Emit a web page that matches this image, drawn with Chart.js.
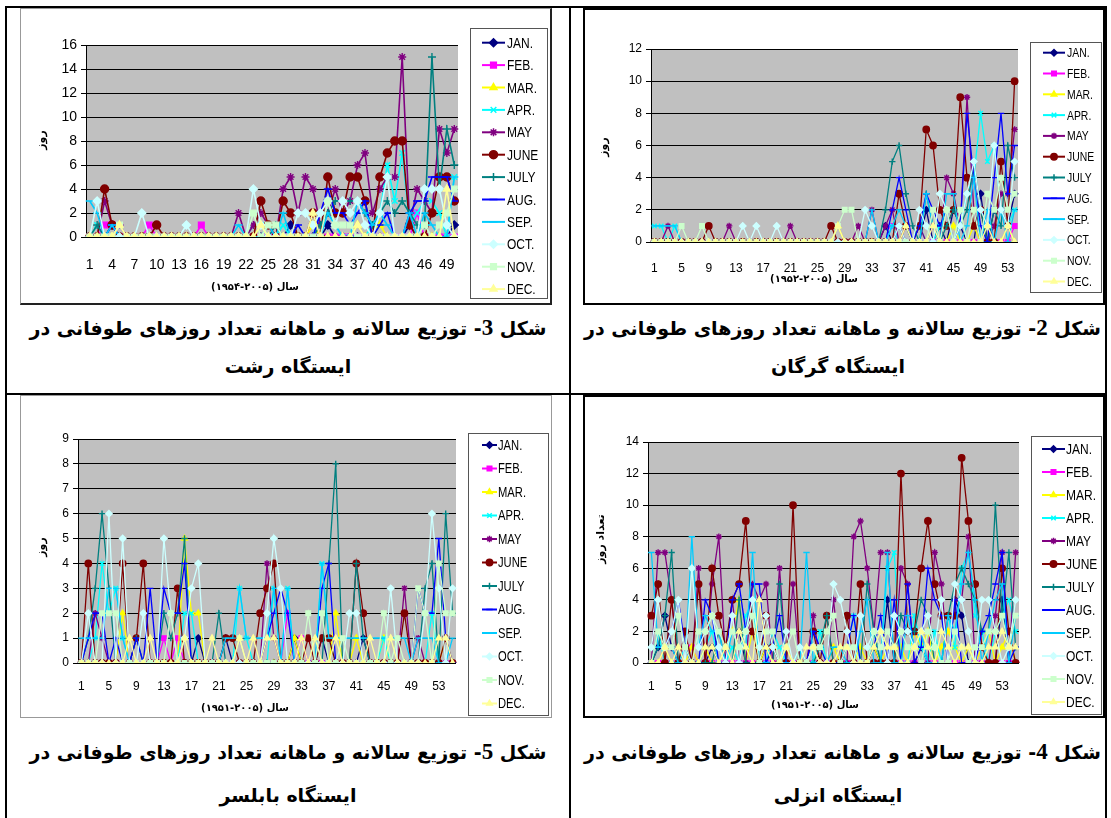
<!DOCTYPE html>
<html>
<head>
<meta charset="utf-8">
<script src="https://cdn.jsdelivr.net/npm/chart.js@4.4.1/dist/chart.umd.min.js"></script>
<style>
body{margin:0;background:#fff;width:1111px;height:818px;overflow:hidden;position:relative;font-family:'DejaVu Sans',sans-serif}
.ln{position:absolute;background:#000}
.frame{position:absolute;box-sizing:border-box}
canvas{position:absolute}
.cap{position:absolute;direction:rtl;text-align:center;white-space:nowrap;font-weight:bold;font-size:19px;line-height:30px;color:#000}
.cap .num{font-family:'Liberation Serif',serif;font-size:23px}
</style>
</head>
<body>
<!-- table lines -->
<div class="ln" style="left:5px;top:6px;width:1102px;height:2px"></div>
<div class="ln" style="left:5px;top:6px;width:2px;height:812px"></div>
<div class="ln" style="left:1105px;top:6px;width:2px;height:812px"></div>
<div class="ln" style="left:569px;top:6px;width:2px;height:812px"></div>
<div class="ln" style="left:5px;top:393px;width:1102px;height:2px"></div>

<!-- chart frames -->
<div class="frame" style="left:20px;top:8px;width:532px;height:297px;border:1px solid #999;border-right:2px solid #222;border-bottom:2px solid #222"></div>
<div class="frame" style="left:583px;top:8px;width:522px;height:297px;border:2px solid #000"></div>
<div class="frame" style="left:20px;top:395px;width:532px;height:323px;border:1px solid #999"></div>
<div class="frame" style="left:583px;top:395px;width:522px;height:323px;border:2px solid #000"></div>

<canvas id="rasht" width="530" height="295" style="left:21px;top:9px"></canvas>
<canvas id="gorgan" width="517" height="293" style="left:585px;top:10px"></canvas>
<canvas id="babolsar" width="530" height="320" style="left:21px;top:397px"></canvas>
<canvas id="anzali" width="517" height="318" style="left:585px;top:397px"></canvas>

<!-- captions -->
<div class="cap" style="left:7px;width:562px;top:313px">شکل <span class="num">3</span>- توزیع سالانه و ماهانه تعداد روزهای طوفانی در</div>
<div class="cap" style="left:7px;width:562px;top:351px">ایستگاه رشت</div>
<div class="cap" style="left:580px;width:525px;top:313px">شکل <span class="num">2</span>- توزیع سالانه و ماهانه تعداد روزهای طوفانی در</div>
<div class="cap" style="left:571px;width:534px;top:351px">ایستگاه گرگان</div>
<div class="cap" style="left:7px;width:562px;top:737px">شکل <span class="num">5</span>- توزیع سالانه و ماهانه تعداد روزهای طوفانی در</div>
<div class="cap" style="left:7px;width:562px;top:780px">ایستگاه بابلسر</div>
<div class="cap" style="left:580px;width:525px;top:737px">شکل <span class="num">4</span>- توزیع سالانه و ماهانه تعداد روزهای طوفانی در</div>
<div class="cap" style="left:571px;width:534px;top:780px">ایستگاه انزلی</div>

<script>
// months and styles (Excel default series look)
const MONTHS = ["JAN.", "FEB.", "MAR.", "APR.", "MAY", "JUNE", "JULY", "AUG.", "SEP.", "OCT.", "NOV.", "DEC."];
const MONTH_COLORS = ["#000080", "#FF00FF", "#FFFF00", "#00FFFF", "#800080", "#800000", "#008080", "#0000FF", "#00CCFF", "#CCFFFF", "#CCFFCC", "#FFFF99"];
const MONTH_MARKERS = ["rectRot", "rect", "triangle", "crossRot", "star", "circle", "cross", "line", "line", "rectRot", "rect", "triangle"];

// ---- Rasht (1954-2005), 50 years ----
const rashtJan = [0,0,0,1,0,0,0,0,0,0, 0,0,0,0,0,0,0,0,0,0, 0,0,0,0,0,0,0,1,0,0, 0,0,1,0,0,0,0,0,0,0, 0,0,0,1,0,0,0,0,0,1];
const rashtFeb = [0,0,1,1,0,0,0,0,1,0, 0,0,0,0,0,1,0,0,0,0, 0,0,0,0,0,0,0,0,0,0, 0,0,0,0,0,0,0,0,0,0, 0,0,0,0,2,0,0,0,0,0];
const rashtMar = [0,0,0,0,0,0,0,0,0,0, 0,0,0,0,0,0,0,0,0,0, 0,0,0,1,0,0,0,0,0,0, 1,0,0,0,0,0,1,0,0,1, 0,0,0,0,0,0,0,0,0,0];
const rashtApr = [0,1,0,0,0,0,0,0,0,0, 0,0,0,0,0,0,0,0,0,0, 0,0,1,1,0,0,1,0,0,0, 0,2,2,1,0,0,0,0,1,2, 6,3,7,1,2,3,3,2,0,5];
const rashtMay = [0,0,3,1,1,0,0,0,0,0, 0,0,0,0,0,0,0,0,0,0, 2,0,1,2,1,0,4,5,2,5, 4,1,2,4,2,3,6,7,2,4, 5,5,15,1,4,3,2,9,7,9];
const rashtJun = [0,0,4,1,0,0,0,0,0,1, 0,0,0,0,0,0,0,0,0,0, 0,0,0,3,1,0,3,2,0,0, 2,0,5,2,2,5,5,3,0,5, 7,8,8,1,0,0,2,5,5,3];
const rashtJul = [0,1,0,0,0,0,0,0,0,0, 0,0,0,0,0,0,0,0,0,0, 0,0,0,0,0,1,0,0,0,0, 0,1,2,3,3,3,3,2,1,2, 3,2,3,2,1,1,15,4,9,6];
const rashtAug = [0,0,0,1,0,0,0,0,0,0, 0,0,0,0,0,0,0,0,0,0, 0,0,0,0,0,0,0,0,1,0, 0,2,4,2,2,1,2,3,0,1, 2,0,0,2,3,3,5,5,5,3];
const rashtSep = [3,2,0,1,0,0,0,0,0,0, 0,0,0,0,0,0,0,0,0,0, 1,0,0,0,1,0,2,0,0,0, 0,0,2,1,0,0,3,2,1,2, 1,0,0,2,0,2,1,0,0,5];
const rashtOct = [0,3,0,0,0,0,0,2,0,0, 0,0,0,1,0,0,0,0,0,0, 0,0,4,1,0,0,0,0,2,2, 1,2,3,1,3,2,3,1,0,2, 5,0,0,0,0,4,4,4,1,0];
const rashtNov = [0,0,0,0,1,0,0,0,0,0, 0,0,0,0,0,0,0,0,0,0, 0,0,2,0,1,1,0,0,0,0, 0,0,3,1,1,1,0,0,0,0, 0,0,0,0,0,1,0,1,2,4];
const rashtDec = [0,0,0,0,1,0,0,0,0,0, 0,0,0,0,0,0,0,0,0,0, 0,0,0,1,0,0,0,0,0,0, 2,0,0,0,0,0,1,0,0,0, 0,0,0,0,0,0,0,0,4,0];

// ---- Gorgan (1952-2005), 54 years ----
const gorganJan = [0,0,0,0,0,0,0,0,0,0, 0,0,0,0,0,0,0,0,0,0, 0,0,0,0,0,0,0,0,0,0, 0,0,0,0,1,0,1,0,0,0, 2,0,1,0,2,1,0,0,3,0, 2,2,1,3];
const gorganFeb = [0,0,0,0,0,0,0,0,0,0, 0,0,0,0,0,0,0,0,0,0, 0,0,0,0,0,0,0,0,0,0, 0,0,0,0,0,1,0,0,0,0, 0,0,0,0,0,0,0,0,0,0, 0,0,0,1];
const gorganMar = [0,0,0,0,0,0,0,0,0,0, 0,0,0,0,0,0,0,0,0,0, 0,0,0,0,0,0,0,1,0,0, 0,0,0,0,0,0,0,1,0,0, 0,0,0,0,1,0,0,1,0,0, 0,0,1,0];
const gorganApr = [1,1,0,1,0,0,0,0,0,0, 0,0,0,0,0,0,0,0,0,0, 0,0,0,0,0,0,0,0,0,0, 0,0,0,0,0,1,0,0,0,1, 0,0,1,2,0,1,3,4,8,5, 6,2,1,2];
const gorganMay = [0,0,1,0,0,0,0,0,0,0, 0,1,0,0,0,0,0,0,0,0, 1,0,0,0,0,0,0,0,0,0, 1,0,2,0,1,2,0,1,0,1, 0,1,0,4,3,1,9,2,0,0, 1,3,3,7];
const gorganJun = [0,0,0,0,0,0,0,0,1,0, 0,0,0,0,0,0,0,0,0,0, 0,0,0,0,0,0,1,0,0,0, 0,0,0,0,0,0,3,1,0,1, 7,6,2,1,2,9,4,1,2,0, 0,5,1,10];
const gorganJul = [0,0,0,0,0,0,0,0,0,0, 0,0,0,0,0,0,0,0,0,0, 0,0,0,0,0,0,0,0,0,0, 0,0,0,0,2,5,6,3,1,0, 3,1,0,1,2,1,2,5,2,0, 2,1,6,4];
const gorganAug = [0,0,0,0,0,0,0,0,0,0, 0,0,0,0,0,0,0,0,0,0, 0,0,0,0,0,0,0,0,0,0, 0,0,0,0,0,2,4,2,0,1, 3,2,1,2,0,1,8,4,1,0, 4,8,3,6];
const gorganSep = [1,1,1,1,0,0,0,0,0,0, 0,0,0,0,0,0,0,0,0,0, 0,0,0,0,0,0,0,0,0,0, 0,0,2,0,0,1,2,1,0,0, 3,1,0,3,3,0,1,4,0,2, 0,2,0,2];
const gorganOct = [0,0,0,0,0,0,0,0,0,0, 0,0,0,1,0,1,0,0,1,0, 0,0,0,0,0,0,0,0,0,0, 0,2,1,0,0,0,1,0,0,2, 1,0,3,2,0,1,3,5,2,1, 6,2,1,5];
const gorganNov = [0,0,0,0,1,0,0,1,0,0, 0,0,0,0,0,0,0,0,0,0, 0,0,0,0,0,0,0,1,2,2, 0,0,0,0,0,0,0,0,0,0, 0,2,0,2,0,2,0,2,0,3, 2,4,2,3];
const gorganDec = [0,0,0,0,0,0,0,0,0,0, 0,0,0,0,0,0,0,0,0,0, 0,0,0,0,0,0,0,1,0,0, 0,0,0,0,0,0,0,1,0,0, 0,1,0,0,0,0,0,0,0,1, 0,0,1,0];

// ---- Babolsar (1951-2005), 55 years ----
const babolJan = [0,0,0,0,0,0,0,0,0,0, 0,0,0,0,0,0,0,1,0,0, 0,1,0,0,0,0,0,0,0,0, 0,1,0,0,0,1,0,0,0,0, 0,1,0,0,0,0,0,0,0,0, 0,0,0,0,0];
const babolFeb = [0,0,0,0,0,0,0,0,0,0, 0,0,1,0,1,0,0,0,0,0, 0,0,0,0,0,0,0,0,0,0, 2,0,1,0,0,0,0,0,0,0, 0,0,0,0,0,0,0,0,0,0, 0,0,0,0,0];
const babolMar = [0,0,0,0,0,0,2,0,0,0, 0,0,0,0,0,5,2,2,0,0, 0,0,0,0,0,0,0,0,0,0, 0,1,0,0,0,0,0,2,0,0, 1,0,0,0,1,0,0,0,0,0, 0,0,0,1,0];
const babolApr = [0,0,1,4,2,3,1,0,0,0, 0,0,0,0,0,2,2,0,0,0, 0,0,0,3,1,0,0,0,3,0, 3,0,0,0,0,4,1,0,0,0, 0,0,0,0,1,0,0,0,0,0, 0,2,0,0,0];
const babolMay = [0,0,2,1,0,0,0,0,0,0, 0,0,0,0,0,0,0,0,0,0, 0,0,0,0,0,0,0,4,1,0, 0,0,0,0,0,0,0,0,0,0, 0,0,0,0,0,0,0,3,0,1, 0,0,0,0,0];
const babolJun = [0,4,0,0,0,0,4,0,1,4, 0,0,0,0,3,0,0,0,0,0, 0,1,1,0,0,0,2,3,4,0, 0,0,0,1,0,1,1,0,0,0, 4,2,0,0,0,0,0,2,0,0, 0,0,0,1,0];
const babolJul = [0,1,3,6,3,0,0,0,1,0, 0,0,2,1,2,5,0,0,0,0, 2,0,0,0,0,0,0,0,0,0, 0,0,0,0,0,0,4,8,0,0, 4,1,0,0,0,0,0,0,0,0, 3,4,0,6,2];
const babolAug = [0,1,2,2,0,1,0,0,1,0, 3,0,3,2,2,4,0,0,0,0, 0,0,0,0,0,0,0,1,2,3, 2,0,0,0,0,3,4,0,0,0, 0,0,0,0,0,0,0,0,0,3, 2,2,5,1,0];
const babolSep = [1,1,1,1,3,3,1,0,0,0, 0,0,0,0,0,0,0,0,0,0, 0,1,1,3,1,1,1,1,3,0, 3,0,0,0,0,4,1,1,1,1, 1,1,1,1,1,1,1,1,0,1, 1,1,0,0,1];
const babolOct = [0,2,0,0,6,0,5,0,0,2, 0,0,5,2,0,1,3,4,0,0, 0,0,0,0,0,0,0,2,5,3, 0,0,0,0,0,0,0,0,0,2, 2,0,0,0,0,3,0,0,0,0, 2,6,3,0,3];
const babolNov = [0,0,0,2,2,2,0,0,0,0, 0,0,0,2,0,0,0,0,0,0, 0,0,0,1,0,0,0,0,0,0, 0,0,0,2,0,2,0,0,1,0, 0,0,0,0,2,0,1,0,0,3, 2,0,4,2,2];
const babolDec = [0,0,0,0,0,0,0,1,0,0, 1,0,0,0,0,1,0,0,0,1, 0,0,0,1,0,1,0,1,1,0, 0,0,1,0,1,0,0,1,0,0, 0,0,1,0,0,1,0,0,0,0, 0,0,1,1,0];

// ---- Anzali (1951-2005), 55 years ----
const anzaliJan = [0,1,3,1,0,1,0,0,0,1, 0,0,0,2,0,0,0,1,0,0, 0,0,0,0,0,0,0,0,0,0, 0,0,0,1,0,4,0,0,0,0, 1,0,0,0,0,4,3,0,0,0, 0,0,4,0,0];
const anzaliFeb = [0,0,0,0,0,1,1,0,0,0, 0,0,0,0,0,0,0,0,0,0, 0,0,0,0,0,0,0,0,0,0, 0,0,0,0,0,0,0,0,0,0, 0,0,0,0,0,0,0,0,0,0, 0,0,0,0,0];
const anzaliMar = [0,0,1,0,0,0,1,0,1,0, 0,1,2,4,0,2,0,1,0,0, 1,0,0,0,0,1,0,1,0,0, 0,1,0,1,0,1,1,1,0,2, 1,2,0,1,2,1,0,1,0,1, 2,0,1,2,0];
const anzaliApr = [0,2,0,0,0,1,0,0,1,2, 0,0,1,0,3,4,0,0,2,1, 0,0,1,0,0,2,0,0,0,1, 3,0,0,2,0,6,7,0,0,3, 1,0,2,0,3,1,6,7,3,2, 0,2,3,4,2];
const anzaliMay = [0,7,7,4,0,0,0,6,0,5, 8,0,4,0,0,5,4,5,0,6, 0,5,0,0,3,0,0,4,0,0, 8,9,6,2,7,7,0,6,5,0, 0,0,7,5,0,4,4,8,0,0, 0,3,7,0,7];
const anzaliJun = [3,5,0,4,0,2,0,5,0,6, 3,1,4,5,9,2,0,3,1,0, 0,10,0,0,2,0,3,0,0,3, 0,5,0,0,0,0,0,12,2,2, 6,9,5,3,3,3,13,9,5,1, 0,0,6,2,0];
const anzaliJul = [0,1,3,7,0,0,0,0,0,0, 2,0,0,4,0,0,0,0,0,5, 0,0,0,0,0,1,3,0,0,0, 0,0,5,2,0,0,0,3,2,2, 4,3,0,0,3,5,6,5,4,2, 2,10,3,7,1];
const anzaliAug = [1,1,1,2,4,1,0,0,4,3, 0,0,4,5,2,5,5,0,1,3, 0,0,0,0,2,1,0,0,0,1, 3,0,0,1,3,0,4,0,5,0, 1,6,4,3,0,4,0,0,0,2, 3,5,7,0,1];
const anzaliSep = [7,1,1,1,0,0,8,1,3,2, 2,0,2,1,1,7,0,0,0,0, 0,0,0,7,0,0,0,1,1,0, 0,2,4,0,0,7,0,0,3,1, 2,0,0,0,3,2,5,7,4,0, 2,4,5,0,3];
const anzaliOct = [1,4,1,2,4,0,6,1,2,3, 1,0,3,0,2,4,1,3,1,0, 2,0,1,0,1,0,0,5,4,2, 0,3,1,2,2,0,3,2,2,1, 2,3,1,4,0,5,4,2,0,4, 4,2,0,1,4];
const anzaliNov = [0,2,1,1,3,1,0,2,2,3, 2,1,2,1,2,3,0,2,2,0, 1,2,0,0,1,1,2,3,0,1, 1,0,0,2,1,2,1,2,1,1, 0,2,1,0,0,2,1,0,1,1, 2,2,3,1,3];
const anzaliDec = [0,0,1,0,1,0,0,0,1,1, 0,1,0,2,1,0,4,1,0,0, 1,0,0,1,1,0,0,0,1,1, 0,0,0,1,2,1,1,0,0,1, 2,1,0,2,1,0,1,1,0,0, 1,1,2,1,1];

const TICK_FONT = "'Liberation Sans',Arial,sans-serif";
const TITLE_FONT = "'DejaVu Sans',sans-serif";

// layout of each chart, in canvas pixels
const STATIONS = [
    {
        canvas: "rasht",
        series: [rashtJan, rashtFeb, rashtMar, rashtApr, rashtMay, rashtJun, rashtJul, rashtAug, rashtSep, rashtOct, rashtNov, rashtDec],
        yMax: 16, yStep: 2, labelStep: 3,
        tickSize: 14, legendSize: 15, pointRadius: 4, lineWidth: 1.6,
        padTop: 36, padRight: 93, yWidth: 65, xHeight: 67, xPad: 20,
        xTitle: ["سال (۲۰۰۵-۱۹۵۴)", 234, 278], yTitle: ["روز", 21, 131],
        legend: { box: [449, 19, 526, 289], firstY: 33.7, gap: 22.4, line: [461, 484], textX: 486 }
    },
    {
        canvas: "gorgan",
        series: [gorganJan, gorganFeb, gorganMar, gorganApr, gorganMay, gorganJun, gorganJul, gorganAug, gorganSep, gorganOct, gorganNov, gorganDec],
        yMax: 12, yStep: 2, labelStep: 4,
        tickSize: 12, legendSize: 13, pointRadius: 3.2, lineWidth: 1.3,
        padTop: 39, padRight: 84, yWidth: 66, xHeight: 61, xPad: 19,
        xTitle: ["سال (۲۰۰۵-۱۹۵۲)", 229, 269], yTitle: ["روز", 19, 137],
        legend: { box: [445, 32, 516, 282], firstY: 42.7, gap: 20.8, line: [458, 480], textX: 482 }
    },
    {
        canvas: "babolsar",
        series: [babolJan, babolFeb, babolMar, babolApr, babolMay, babolJun, babolJul, babolAug, babolSep, babolOct, babolNov, babolDec],
        yMax: 9, yStep: 1, labelStep: 4,
        tickSize: 12, legendSize: 14, pointRadius: 3.2, lineWidth: 1.3,
        padTop: 42, padRight: 95, yWidth: 57, xHeight: 54, xPad: 16,
        xTitle: ["سال (۲۰۰۵-۱۹۵۱)", 224, 311], yTitle: ["روز", 21, 150],
        legend: { box: [447, 36, 527, 318], firstY: 48, gap: 23.5, line: [461, 476], textX: 477 }
    },
    {
        canvas: "anzali",
        series: [anzaliJan, anzaliFeb, anzaliMar, anzaliApr, anzaliMay, anzaliJun, anzaliJul, anzaliAug, anzaliSep, anzaliOct, anzaliNov, anzaliDec],
        yMax: 14, yStep: 2, labelStep: 4,
        tickSize: 12, legendSize: 15, pointRadius: 3.2, lineWidth: 1.3,
        padTop: 45, padRight: 83, yWidth: 63, xHeight: 52, xPad: 16,
        xTitle: ["سال (۲۰۰۵-۱۹۵۱)", 230, 308], yTitle: ["تعداد روز", 16, 142],
        legend: { box: [446, 39, 516, 317], firstY: 52, gap: 23, line: [457, 480], textX: 481 }
    }
];

// gray plot area like Excel 2003
const plotBackground = {
    id: "plotBackground",
    beforeDraw(chart) {
        const a = chart.chartArea;
        const ctx = chart.ctx;
        ctx.save();
        ctx.fillStyle = "#C0C0C0";
        ctx.fillRect(a.left, a.top, a.right - a.left, a.bottom - a.top);
        ctx.restore();
    }
};

function drawMarker(ctx, style, x, y, r, color) {
    ctx.save();
    ctx.fillStyle = color;
    ctx.strokeStyle = color;
    ctx.lineWidth = 1.5;
    Chart.helpers.drawPoint(ctx, { pointStyle: style, radius: r, borderWidth: 1.5, rotation: 0 }, x, y);
    ctx.restore();
}

// boxed legend on the right, line + marker + name (narrow text)
function monthLegend(st) {
    return {
        id: "monthLegend",
        afterDraw(chart) {
            const ctx = chart.ctx;
            const lg = st.legend;
            const [x1, y1, x2, y2] = lg.box;
            ctx.save();
            ctx.fillStyle = "#fff";
            ctx.fillRect(x1, y1, x2 - x1, y2 - y1);
            ctx.strokeStyle = "#555";
            ctx.lineWidth = 1;
            ctx.strokeRect(x1 + 0.5, y1 + 0.5, x2 - x1, y2 - y1);
            ctx.direction = "ltr";
            ctx.textAlign = "left";
            ctx.textBaseline = "middle";
            ctx.font = st.legendSize + "px " + TICK_FONT;
            MONTHS.forEach((m, i) => {
                const y = lg.firstY + i * lg.gap;
                ctx.strokeStyle = MONTH_COLORS[i];
                ctx.lineWidth = 2;
                ctx.beginPath();
                ctx.moveTo(lg.line[0], y);
                ctx.lineTo(lg.line[1], y);
                ctx.stroke();
                drawMarker(ctx, MONTH_MARKERS[i], (lg.line[0] + lg.line[1]) / 2, y, st.pointRadius, MONTH_COLORS[i]);
                ctx.save();
                ctx.translate(lg.textX, y + 1);
                ctx.scale(0.8, 1);
                ctx.fillStyle = "#000";
                ctx.fillText(m, 0, 0);
                ctx.restore();
            });
            ctx.restore();
        }
    };
}

// Persian axis titles, drawn right-to-left
function axisTitles(st) {
    return {
        id: "axisTitles",
        afterDraw(chart) {
            const ctx = chart.ctx;
            ctx.save();
            ctx.direction = "rtl";
            ctx.fillStyle = "#000";
            ctx.textAlign = "center";
            ctx.textBaseline = "middle";
            ctx.font = "bold 10px " + TITLE_FONT;
            ctx.fillText(st.xTitle[0], st.xTitle[1], st.xTitle[2]);
            ctx.font = "bold 11px " + TITLE_FONT;
            ctx.translate(st.yTitle[1], st.yTitle[2]);
            ctx.rotate(-Math.PI / 2);
            ctx.fillText(st.yTitle[0], 0, 0);
            ctx.restore();
        }
    };
}

function buildChart(st) {
    const canvas = document.getElementById(st.canvas);
    const labels = st.series[0].map((v, i) => String(i + 1));

    const datasets = st.series.map((vals, i) => ({
        label: MONTHS[i],
        data: vals,
        borderColor: MONTH_COLORS[i],
        backgroundColor: MONTH_COLORS[i],
        borderWidth: st.lineWidth,
        pointStyle: MONTH_MARKERS[i],
        pointRadius: st.pointRadius,
        pointBorderWidth: 1.4,
        pointBackgroundColor: MONTH_COLORS[i],
        pointBorderColor: MONTH_COLORS[i],
        tension: 0,
        order: 11 - i
    }));

    new Chart(canvas, {
        type: "line",
        data: { labels: labels, datasets: datasets },
        options: {
            responsive: false,
            animation: false,
            events: [],
            layout: { padding: { left: 0, top: st.padTop, right: st.padRight, bottom: 0 } },
            plugins: { legend: { display: false }, tooltip: { enabled: false } },
            scales: {
                x: {
                    type: "category",
                    offset: true,
                    grid: { display: false, drawTicks: false },
                    border: { display: false },
                    ticks: {
                        autoSkip: false,
                        maxRotation: 0,
                        padding: st.xPad,
                        color: "#000",
                        font: { family: TICK_FONT, size: st.tickSize },
                        callback: function (value, index) {
                            return index % st.labelStep === 0 ? this.getLabelForValue(value) : "";
                        }
                    },
                    afterFit: (scale) => { scale.height = st.xHeight; }
                },
                y: {
                    min: 0,
                    max: st.yMax,
                    grid: { color: "#000", lineWidth: 1, tickLength: 5, drawTicks: true },
                    border: { display: true, color: "#000", width: 1 },
                    ticks: {
                        stepSize: st.yStep,
                        padding: 4,
                        color: "#000",
                        font: { family: TICK_FONT, size: st.tickSize }
                    },
                    afterFit: (scale) => { scale.width = st.yWidth; }
                }
            }
        },
        plugins: [plotBackground, monthLegend(st), axisTitles(st)]
    });
}

STATIONS.forEach(buildChart);
</script>
</body>
</html>
